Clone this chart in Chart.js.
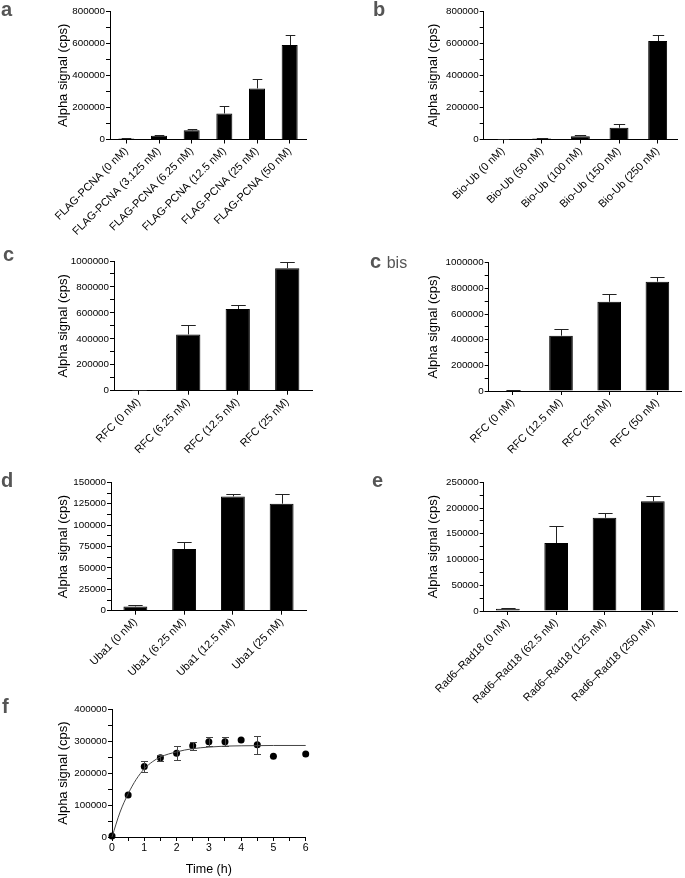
<!DOCTYPE html>
<html>
<head>
<meta charset="utf-8">
<script src="https://cdn.jsdelivr.net/npm/chart.js@4.4.1/dist/chart.umd.min.js"></script>
<style>
  html, body { margin: 0; padding: 0; background: #fff; }
  body { width: 685px; height: 878px; position: relative; overflow: hidden;
         font-family: "Liberation Sans", Arial, sans-serif; }
  canvas { position: absolute; }
  .tag { position: absolute; font-weight: bold; font-size: 20px; line-height: 20px; color: #555; white-space: nowrap; }
  .tag span { font-weight: normal; font-size: 16px; }
</style>
</head>
<body>
<canvas id="chartA" width="342" height="245" style="left:0;top:0"></canvas>
<canvas id="chartB" width="343" height="245" style="left:342px;top:0"></canvas>
<canvas id="chartC" width="342" height="225" style="left:0;top:245px"></canvas>
<canvas id="chartCbis" width="343" height="225" style="left:342px;top:245px"></canvas>
<canvas id="chartD" width="342" height="250" style="left:0;top:455px"></canvas>
<canvas id="chartE" width="343" height="250" style="left:342px;top:455px"></canvas>
<canvas id="chartF" width="342" height="203" style="left:0;top:675px"></canvas>

<div class="tag" style="left:1px;top:-1px">a</div>
<div class="tag" style="left:373px;top:-1px">b</div>
<div class="tag" style="left:3px;top:244px">c</div>
<div class="tag" style="left:370px;top:251px">c <span>bis</span></div>
<div class="tag" style="left:1px;top:470px">d</div>
<div class="tag" style="left:372px;top:470px">e</div>
<div class="tag" style="left:2px;top:696px">f</div>

<script>
// panel a
const labelsA = ["FLAG-PCNA (0 nM)", "FLAG-PCNA (3.125 nM)", "FLAG-PCNA (6.25 nM)",
                 "FLAG-PCNA (12.5 nM)", "FLAG-PCNA (25 nM)", "FLAG-PCNA (50 nM)"];
const valuesA = [7000, 23000, 57000, 162000, 318000, 588000];
const errA = [2000, 8000, 10000, 44000, 57000, 62000];

// panel b
const labelsB = ["Bio-Ub (0 nM)", "Bio-Ub (50 nM)", "Bio-Ub (100 nM)", "Bio-Ub (150 nM)", "Bio-Ub (250 nM)"];
const valuesB = [3000, 6000, 21000, 73000, 613000];
const errB = [1000, 2000, 6000, 26000, 36000];

// panel c
const labelsC = ["RFC (0 nM)", "RFC (6.25 nM)", "RFC (12.5 nM)", "RFC (25 nM)"];
const valuesC = [5000, 434000, 630000, 945000];
const errC = [1000, 70000, 28000, 44000];

// panel c bis
const labelsCbis = ["RFC (0 nM)", "RFC (12.5 nM)", "RFC (25 nM)", "RFC (50 nM)"];
const valuesCbis = [3000, 431000, 695000, 852000];
const errCbis = [1000, 49000, 64000, 33000];

// panel d
const labelsD = ["Uba1 (0 nM)", "Uba1 (6.25 nM)", "Uba1 (12.5 nM)", "Uba1 (25 nM)"];
const valuesD = [5000, 72000, 133500, 125000];
const errD = [1200, 8000, 2700, 11000];

// panel e
const labelsE = ["Rad6\u2013Rad18 (0 nM)", "Rad6\u2013Rad18 (62.5 nM)", "Rad6\u2013Rad18 (125 nM)", "Rad6\u2013Rad18 (250 nM)"];
const valuesE = [4500, 132000, 181000, 213000];
const errE = [500, 33000, 10000, 10000];

// panel f: time course + fitted curve
const timeF = [0, 0.5, 1, 1.5, 2, 2.5, 3, 3.5, 4, 4.5, 5, 6];
const meanF = [3000, 131000, 220000, 248000, 262000, 285000, 298000, 298000, 303000, 288000, 252000, 259000];
const sdF = [0, 0, 17000, 9000, 21000, 12500, 15000, 13000, 0, 28000, 0, 0];
const fitT = [0, 0.25, 0.5, 0.75, 1, 1.25, 1.5, 2, 2.5, 3, 3.5, 4, 5, 6];
const fitY = [0, 78000, 135000, 180000, 213000, 235000, 250000, 266000, 276000, 281000, 284000, 285000, 286000, 286000];

const TXT = "#000";
Chart.defaults.font.family = '"Liberation Sans", Arial, sans-serif';
Chart.defaults.color = TXT;

// error bars (mean + SD for bars, mean ± SD for the time course)
const errorBars = {
  id: "errorBars",
  afterDatasetsDraw(chart) {
    const ctx = chart.ctx;
    const ys = chart.scales.y;
    chart.data.datasets.forEach((ds, di) => {
      if (!ds.errors) return;
      const meta = chart.getDatasetMeta(di);
      meta.data.forEach((el, i) => {
        const e = ds.errors[i];
        if (!e) return;
        const v = typeof ds.data[i] === "object" ? ds.data[i].y : ds.data[i];
        const x = Math.round(el.x) + 0.5;
        const yTop = Math.round(ys.getPixelForValue(v + e)) + 0.5;
        const yBot = ds.errBoth ? Math.round(ys.getPixelForValue(v - e)) + 0.5 : ys.getPixelForValue(v);
        const half = (ds.capWidth || el.width * 0.6) / 2;
        ctx.save();
        ctx.strokeStyle = ds.errColor || "#222";
        ctx.lineWidth = 1;
        ctx.beginPath();
        ctx.moveTo(x, yBot);
        ctx.lineTo(x, yTop);
        ctx.moveTo(x - half, yTop);
        ctx.lineTo(x + half, yTop);
        if (ds.errBoth) {
          ctx.moveTo(x - half, yBot);
          ctx.lineTo(x + half, yBot);
        }
        ctx.stroke();
        ctx.restore();
      });
    });
  }
};

function yAxis(g, yMax, yMinor, yMajor) {
  return {
    min: 0,
    max: yMax,
    grid: { drawOnChartArea: false, color: "#000", tickLength: 4 },
    border: { color: "#000", width: 1 },
    ticks: {
      stepSize: yMinor,
      autoSkip: false,
      font: { size: 9.8 },
      color: TXT,
      padding: 1,
      callback: (v) => (v % yMajor === 0 ? String(v) : "")
    },
    title: {
      display: true,
      text: "Alpha signal (cps)",
      font: { size: 13 },
      color: TXT,
      padding: { top: g.titleX - 7.8, bottom: 0 }
    },
    afterFit: (s) => { s.width = g.yw; }
  };
}

function barPanel(id, g, labels, values, errors, yMax, yMinor, yMajor) {
  new Chart(document.getElementById(id), {
    type: "bar",
    data: {
      labels: labels,
      datasets: [{
        data: values,
        errors: errors,
        backgroundColor: "#000",
        borderColor: "#000",
        borderWidth: 1,
        barPercentage: 0.49,
        categoryPercentage: 1,
        errColor: "#222"
      }]
    },
    options: {
      responsive: false,
      animation: false,
      devicePixelRatio: 1,
      layout: { padding: { top: g.top, right: g.right, bottom: 0, left: 0 } },
      plugins: { legend: { display: false }, tooltip: { enabled: false } },
      scales: {
        x: {
          offset: true,
          grid: { drawOnChartArea: false, offset: false, color: "#000", tickLength: 4 },
          border: { color: "#000", width: 1 },
          ticks: { minRotation: 45, maxRotation: 45, autoSkip: false, font: { size: 11 }, color: TXT, padding: 1 },
          afterFit: (s) => { s.height = g.xh; }
        },
        y: yAxis(g, yMax, yMinor, yMajor)
      }
    },
    plugins: [errorBars]
  });
}

barPanel("chartA", { yw: 110, top: 11, xh: 105.5, right: 36, titleX: 63 },
  labelsA, valuesA, errA, 800000, 100000, 200000);
barPanel("chartB", { yw: 141.7, top: 11, xh: 105.5, right: 8, titleX: 91.7 },
  labelsB, valuesB, errB, 800000, 100000, 200000);
barPanel("chartC", { yw: 114, top: 16, xh: 79.3, right: 30, titleX: 63 },
  labelsC, valuesC, errC, 1000000, 100000, 200000);
barPanel("chartCbis", { yw: 146.7, top: 17.7, xh: 79, right: 3.5, titleX: 91.7 },
  labelsCbis, valuesCbis, errCbis, 1000000, 100000, 200000);
barPanel("chartD", { yw: 111, top: 27.3, xh: 94.3, right: 36, titleX: 63.3 },
  labelsD, valuesD, errD, 150000, 12500, 25000);
barPanel("chartE", { yw: 141.7, top: 27.3, xh: 94, right: 8, titleX: 91.7 },
  labelsE, valuesE, errE, 250000, 25000, 50000);

// panel f
const gF = { yw: 112, top: 34, xh: 41, right: 36.3, titleX: 63 };
new Chart(document.getElementById("chartF"), {
  type: "scatter",
  data: {
    datasets: [
      {
        data: fitT.map((t, i) => ({ x: t, y: fitY[i] })),
        showLine: true,
        pointRadius: 0,
        borderColor: "#444",
        borderWidth: 1,
        cubicInterpolationMode: "monotone",
        clip: false
      },
      {
        data: timeF.map((t, i) => ({ x: t, y: meanF[i] })),
        errors: sdF,
        errBoth: true,
        capWidth: 7,
        errColor: "#444",
        pointRadius: 3.5,
        backgroundColor: "#000",
        borderColor: "#000",
        borderWidth: 0,
        clip: false
      }
    ]
  },
  options: {
    responsive: false,
    animation: false,
    devicePixelRatio: 1,
    layout: { padding: { top: gF.top, right: gF.right, bottom: 0, left: 0 } },
    plugins: { legend: { display: false }, tooltip: { enabled: false } },
    scales: {
      x: {
        type: "linear",
        min: 0,
        max: 6,
        grid: { drawOnChartArea: false, color: "#000", tickLength: 4 },
        border: { color: "#000", width: 1 },
        ticks: {
          stepSize: 0.5,
          autoSkip: false,
          maxRotation: 0,
          font: { size: 10.5 },
          color: TXT,
          padding: 1,
          callback: (v) => (Number.isInteger(v) ? String(v) : "")
        },
        title: { display: true, text: "Time (h)", font: { size: 12.5 }, color: TXT, padding: { top: 0, bottom: 0.5 } },
        afterFit: (s) => { s.height = gF.xh; }
      },
      y: yAxis(gF, 400000, 50000, 100000)
    }
  },
  plugins: [errorBars]
});
</script>
</body>
</html>
